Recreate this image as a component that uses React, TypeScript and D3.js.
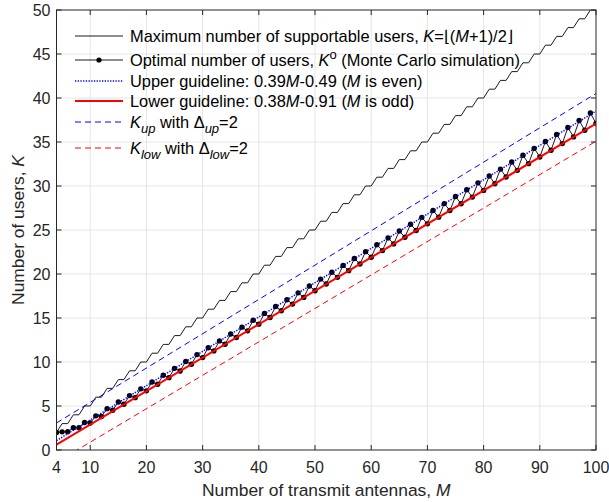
import React from "react";
import * as d3 from "d3";

const M_START = 4;
const maxUsers = [2,3,3,4,4,5,5,6,6,7,7,8,8,9,9,10,10,11,11,12,12,13,13,14,14,15,15,16,16,17,17,18,18,19,19,20,20,21,21,22,22,23,23,24,24,25,25,26,26,27,27,28,28,29,29,30,30,31,31,32,32,33,33,34,34,35,35,36,36,37,37,38,38,39,39,40,40,41,41,42,42,43,43,44,44,45,45,46,46,47,47,48,48,49,49,50,50];
// Optimal K^o for M = 4..100
const optimalUsers = [
  2.0, 2.06, 2.08, 2.52, 2.54, 3.12, 3.06, 3.88, 3.8, 4.7, 4.52, 5.45, 5.2, 6.18, 5.95,
  6.95, 6.72, 7.72, 7.47, 8.5, 8.22, 9.28, 8.98, 10.06, 9.74, 10.84, 10.5, 11.62, 11.26, 12.4, 12.02,
  13.18, 12.78, 13.96, 13.54, 14.74, 14.3, 15.52, 15.06, 16.3, 15.82, 17.08, 16.58, 17.86, 17.34, 18.64, 18.1,
  19.42, 18.86, 20.2, 19.62, 20.98, 20.38, 21.76, 21.14, 22.54, 21.9, 23.32, 22.66, 24.1, 23.42, 24.88, 24.18,
  25.66, 24.94, 26.44, 25.7, 27.22, 26.46, 28.0, 27.22, 28.8, 27.98, 29.58, 28.74, 30.36, 29.5, 31.14, 30.26,
  31.92, 31.02, 32.72, 31.78, 33.5, 32.54, 34.28, 33.3, 35.06, 34.06, 35.86, 34.82, 36.64, 35.58, 37.44, 36.34,
  38.3, 37.12
];
const xTicks = [4, 10, 20, 30, 40, 50, 60, 70, 80, 90, 100];
const yTicks = [0, 5, 10, 15, 20, 25, 30, 35, 40, 45, 50];
// guideline endpoints [M, K]
const upperGuide = [[4, 1.07], [100, 38.51]];
const lowerGuide = [[4, 0.61], [100, 37.09]];
const kUpLine = [[4, 3.07], [100, 40.51]];
const kLowLine = [[4, -1.39], [100, 35.09]];

const FONT = "'Liberation Sans', Arial, Helvetica, sans-serif";
const W = 609, H = 502;
const L = 56.5, R = 596, T = 10, B = 450;

export default function App() {
  const x = d3.scaleLinear().domain([4, 100]).range([L, R]);
  const y = d3.scaleLinear().domain([0, 50]).range([B, T]);
  const line = d3.line<[number, number]>().x(d => x(d[0])).y(d => y(d[1]));
  const maxPts: [number, number][] = maxUsers.map((v, i) => [M_START + i, v]);
  const optPts: [number, number][] = optimalUsers.map((v, i) => [M_START + i, v]);
  const tickC = "#262626";
  const gridC = "#e5e5e5";

  const legendRows = [
    { y: 36, kind: "max" },
    { y: 60, kind: "opt" },
    { y: 81, kind: "up" },
    { y: 101, kind: "low" },
    { y: 122, kind: "kup" },
    { y: 148, kind: "klow" },
  ];
  const lx0 = 75, lx1 = 123, tx = 130;
  const fs = 16.4;
  const sfs = 13;

  const legendLine = (kind: string, ly: number) => {
    switch (kind) {
      case "max":
        return <line x1={lx0} x2={lx1} y1={ly} y2={ly} stroke="#000" strokeWidth={0.9} />;
      case "opt":
        return (
          <g>
            <line x1={lx0} x2={lx1} y1={ly} y2={ly} stroke="#000" strokeWidth={0.9} />
            <circle cx={(lx0 + lx1) / 2} cy={ly} r={2.6} fill="#000" />
          </g>
        );
      case "up":
        return <line x1={lx0} x2={lx1} y1={ly} y2={ly} stroke="#0000ff" strokeWidth={1.5} strokeDasharray="1.3,1.4" />;
      case "low":
        return <line x1={lx0} x2={lx1} y1={ly} y2={ly} stroke="#ff0000" strokeWidth={2} />;
      case "kup":
        return <line x1={lx0} x2={lx1} y1={ly} y2={ly} stroke="#0000ff" strokeWidth={1} strokeDasharray="6,4" />;
      default:
        return <line x1={lx0} x2={lx1} y1={ly} y2={ly} stroke="#ff0000" strokeWidth={1} strokeDasharray="6,4" />;
    }
  };

  const legendText = (kind: string, ly: number) => {
    const base = { x: tx, y: ly + 6, fontSize: fs, fill: "#000", fontFamily: FONT };
    switch (kind) {
      case "max":
        return (
          <text {...base}>
            Maximum number of supportable users, <tspan fontStyle="italic">K</tspan>=⌊(<tspan fontStyle="italic">M</tspan>+1)/2⌋
          </text>
        );
      case "opt":
        return (
          <text {...base}>
            Optimal number of users, <tspan fontStyle="italic">K</tspan>
            <tspan dy={-7} fontSize={sfs}>o</tspan>
            <tspan dy={7}> (Monte Carlo simulation)</tspan>
          </text>
        );
      case "up":
        return (
          <text {...base}>
            Upper guideline: 0.39<tspan fontStyle="italic">M</tspan>-0.49 (<tspan fontStyle="italic">M</tspan> is even)
          </text>
        );
      case "low":
        return (
          <text {...base}>
            Lower guideline: 0.38<tspan fontStyle="italic">M</tspan>-0.91 (<tspan fontStyle="italic">M</tspan> is odd)
          </text>
        );
      case "kup":
        return (
          <text {...base}>
            <tspan fontStyle="italic">K</tspan>
            <tspan dy={5} fontSize={sfs} fontStyle="italic">up</tspan>
            <tspan dy={-5}> with Δ</tspan>
            <tspan dy={5} fontSize={sfs} fontStyle="italic">up</tspan>
            <tspan dy={-5}>=2</tspan>
          </text>
        );
      default:
        return (
          <text {...base}>
            <tspan fontStyle="italic">K</tspan>
            <tspan dy={5} fontSize={sfs} fontStyle="italic">low</tspan>
            <tspan dy={-5}> with Δ</tspan>
            <tspan dy={5} fontSize={sfs} fontStyle="italic">low</tspan>
            <tspan dy={-5}>=2</tspan>
          </text>
        );
    }
  };

  return (
    <svg width={W} height={H} style={{ position: "absolute", left: 0, top: 0, background: "#fff" }}>
      <defs>
        <clipPath id="plotclip">
          <rect x={L} y={T} width={R - L} height={B - T} />
        </clipPath>
      </defs>
      <rect x={0} y={0} width={W} height={H} fill="#fff" />
      {xTicks.filter(t => t !== 4 && t !== 100).map(t => (
        <line key={"gx" + t} x1={x(t)} x2={x(t)} y1={T} y2={B} stroke={gridC} strokeWidth={1} />
      ))}
      {yTicks.filter(t => t !== 0 && t !== 50).map(t => (
        <line key={"gy" + t} x1={L} x2={R} y1={y(t)} y2={y(t)} stroke={gridC} strokeWidth={1} />
      ))}
      {legendRows.map(r => (
        <g key={r.kind}>
          {legendLine(r.kind, r.y)}
          {legendText(r.kind, r.y)}
        </g>
      ))}
      <g clipPath="url(#plotclip)">
        <path d={line(maxPts) || ""} fill="none" stroke="#000" strokeWidth={0.9} />
        <path d={line(optPts) || ""} fill="none" stroke="#000" strokeWidth={0.9} />
        {optPts.map((p, i) => (
          <circle key={"o" + i} cx={x(p[0])} cy={y(p[1])} r={2.7} fill="#000" />
        ))}
        <path d={line(upperGuide as [number, number][]) || ""} fill="none" stroke="#0000ff" strokeWidth={1.5} strokeDasharray="1.3,1.4" />
        <path d={line(lowerGuide as [number, number][]) || ""} fill="none" stroke="#ff0000" strokeWidth={2} />
        <path d={line(kUpLine as [number, number][]) || ""} fill="none" stroke="#0000ff" strokeWidth={1} strokeDasharray="6,4" />
        <path d={line(kLowLine as [number, number][]) || ""} fill="none" stroke="#ff0000" strokeWidth={1} strokeDasharray="6,4" />
      </g>
      <rect x={L} y={T} width={R - L} height={B - T} fill="none" stroke={tickC} strokeWidth={1} />
      {xTicks.map(t => (
        <g key={"tx" + t}>
          <line x1={x(t)} x2={x(t)} y1={B} y2={B - 5} stroke={tickC} />
          <line x1={x(t)} x2={x(t)} y1={T} y2={T + 5} stroke={tickC} />
          <text x={x(t)} y={B + 23} textAnchor="middle" fontSize={16} fill={tickC} fontFamily={FONT}>{t}</text>
        </g>
      ))}
      {yTicks.map(t => (
        <g key={"ty" + t}>
          <line x1={L} x2={L + 5} y1={y(t)} y2={y(t)} stroke={tickC} />
          <line x1={R} x2={R - 5} y1={y(t)} y2={y(t)} stroke={tickC} />
          <text x={L - 6} y={y(t) + 6} textAnchor="end" fontSize={16} fill={tickC} fontFamily={FONT}>{t}</text>
        </g>
      ))}
      <text x={(L + R) / 2} y={496} textAnchor="middle" fontSize={17.4} fill={tickC} fontFamily={FONT}>
        Number of transmit antennas, <tspan fontStyle="italic">M</tspan>
      </text>
      <text transform={`translate(24,${(T + B) / 2}) rotate(-90)`} textAnchor="middle" fontSize={17.4} fill={tickC} fontFamily={FONT}>
        Number of users, <tspan fontStyle="italic">K</tspan>
      </text>
    </svg>
  );
}
